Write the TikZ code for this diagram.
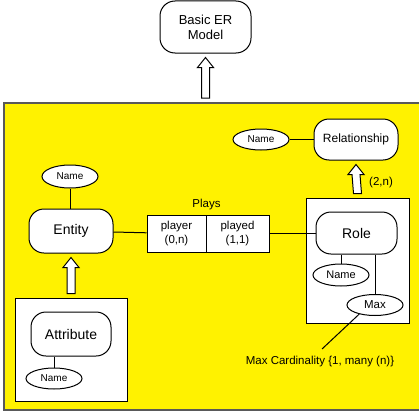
\documentclass[tikz,border=0pt]{standalone}
\usepackage{fontspec}
\setmainfont{Liberation Sans}
\usetikzlibrary{shapes.geometric,calc}

\newcommand{\hollowup}[2]{%
\draw[fill=white] ($(#1)+(-4,-4)$) -- ($(#2)+(-4,14)$) -- ($(#2)+(-8,14)$) -- ($(#2)+(0,4)$)
  -- ($(#2)+(8,14)$) -- ($(#2)+(4,14)$) -- ($(#1)+(4,-4)$) -- cycle;}

\begin{document}
\begin{tikzpicture}[x=1pt,y=-1pt,line width=1pt,
rbox/.style={draw,fill=white,rounded corners=15pt,inner sep=0pt,align=center,font=\fontsize{14}{16}\selectfont},
attr/.style={draw,fill=white,ellipse,inner sep=0pt,minimum width=56pt,minimum height=21pt,font=\fontsize{10}{12}\selectfont},
frame/.style={draw,fill=white,inner sep=0pt},
cell/.style={draw,fill=white,inner sep=0pt,minimum height=37pt,align=center,font=\fontsize{11.5}{13.5}\selectfont},
lbl/.style={inner sep=0pt,font=\fontsize{11.5}{13}\selectfont}]
\useasboundingbox (0,0) rectangle (419,412);

\node[rbox,minimum width=91pt,minimum height=52pt,font=\fontsize{13}{15}\selectfont] (basic) at (205.5,27) {Basic ER\\Model};
\node[draw=black!65,line width=1.6pt,fill=yellow,inner sep=0pt,minimum width=426pt,minimum height=307pt] (model) at (217,256.5) {};

\node[rbox,minimum width=84pt,minimum height=41pt,font=\fontsize{12}{14}\selectfont] (rel) at (356,139.5) {Relationship};
\node[attr] (relname) at (261,139.5) {Name};

\node[attr,minimum height=23pt] (entname) at (70,176.5) {Name};
\node[rbox,minimum width=84pt,minimum height=44pt] (entity) at (71,231) {Entity};

\node[cell,minimum width=59pt] (player) at (176.5,233.5) {player\\(0,n)};
\node[cell,minimum width=63pt] (played) at (237.5,233.5) {played\\(1,1)};
\node[lbl,above=4pt] (plays) at (player.north east) {Plays};

\node[frame,minimum width=103pt,minimum height=125pt] (roleframe) at (357.5,260.5) {};
\node[rbox,minimum width=81pt,minimum height=42pt] (role) at (356.5,233) {Role};
\node[attr,minimum height=22pt,font=\fontsize{11}{13}\selectfont] (rolename) at (341,275) {Name};
\node[attr,font=\fontsize{11.5}{13}\selectfont] (max) at (375,305) {Max};
\node[lbl] (card) at (320,362) {Max Cardinality \{1, many (n)\}};
\coordinate (cardtip) at (322,349);

\node[frame,minimum width=112pt,minimum height=103pt] (attrframe) at (71,349.5) {};
\node[rbox,minimum width=80pt,minimum height=44pt] (attribute) at (71,334) {Attribute};
\node[attr] (attrname) at (54,378.5) {Name};

\node[lbl] (card2) at (381,183) {(2,n)};

\draw (relname) -- (rel);
\draw (entname) -- (entname |- entity.north);
\draw (entity) -- (player);
\draw (played) -- (played -| role.west);
\draw (rolename) -- (rolename |- role.south);
\draw (max) -- (max |- role.south);
\draw (max.210) -- (cardtip);
\draw (attrname) -- (attrname |- attribute.south);

\hollowup{basic.south |- model.north}{basic.south}
\hollowup{roleframe.north}{rel.south}
\hollowup{attrframe.north}{entity.south}
\end{tikzpicture}
\end{document}
